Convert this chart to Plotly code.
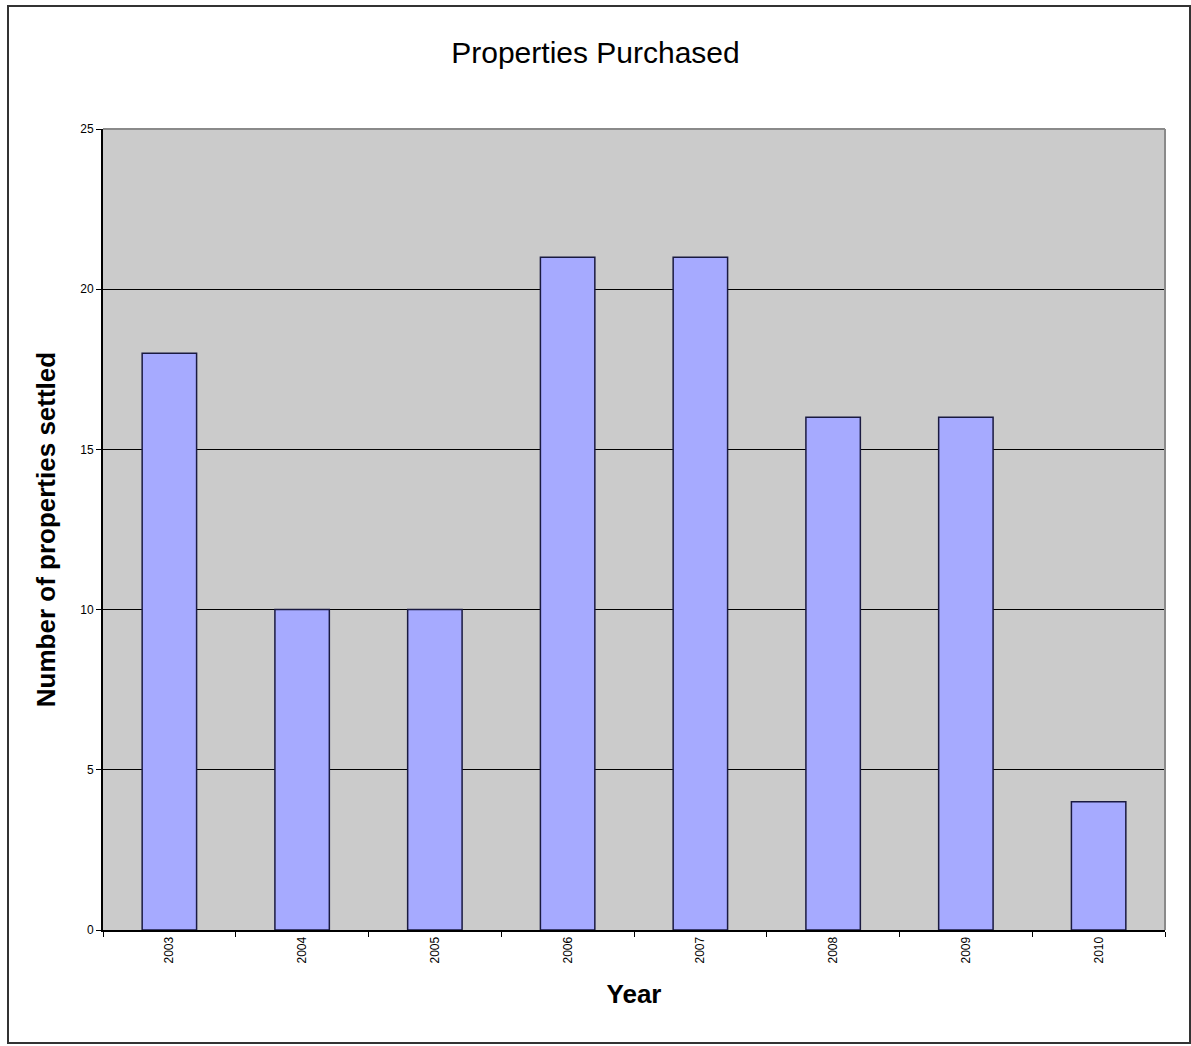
import plotly.graph_objects as go

years = ["2003", "2004", "2005", "2006", "2007", "2008", "2009", "2010"]
settled = [18, 10, 10, 21, 21, 16, 16, 4]
y_ticks = [0, 5, 10, 15, 20, 25]

W, H = 1191, 1046
L, R, T, B = 103, 26, 129, 116
pw = W - L - R
ph = H - T - B

def px_x(p):
    return (p - L) / pw

def px_y(p):
    return (H - B - p) / ph

fig = go.Figure(
    go.Bar(
        x=years,
        y=settled,
        width=0.41,
        marker=dict(color="#A6AAFF", line=dict(color="#1a1a40", width=1.5)),
    )
)

fig.update_layout(
    width=W,
    height=H,
    margin=dict(l=L, r=R, t=T, b=B),
    paper_bgcolor="white",
    plot_bgcolor="#CBCBCB",
    showlegend=False,
    font=dict(family="Liberation Sans, Arial, sans-serif", color="black"),
    title=dict(
        text="Properties Purchased",
        x=0.5,
        xanchor="center",
        y=1 - 52 / H,
        yanchor="middle",
        font=dict(size=30, color="black"),
    ),
    xaxis=dict(
        type="category",
        tickangle=-90,
        tickfont=dict(size=12),
        ticks="outside",
        tickson="boundaries",
        ticklen=5,
        tickcolor="black",
        showline=True,
        linecolor="black",
        linewidth=2,
        showgrid=False,
        title=dict(text="<b>Year</b>", font=dict(size=26), standoff=22),
    ),
    yaxis=dict(
        range=[0, 25],
        tickvals=y_ticks,
        tickfont=dict(size=12),
        ticks="outside",
        ticklen=5,
        tickcolor="black",
        showline=True,
        linecolor="black",
        linewidth=2,
        showgrid=True,
        gridcolor="black",
        gridwidth=1,
        zeroline=False,
        title=dict(text="<b>Number of properties settled</b>", font=dict(size=26), standoff=17),
    ),
    shapes=[
        dict(type="line", xref="paper", yref="paper", x0=0, x1=1, y0=1, y1=1,
             line=dict(color="#8a8a8a", width=2), layer="above"),
        dict(type="line", xref="paper", yref="paper", x0=1, x1=1, y0=0, y1=1,
             line=dict(color="#8a8a8a", width=2), layer="above"),
        dict(type="rect", xref="paper", yref="paper",
             x0=px_x(8), x1=px_x(1190), y0=px_y(1043), y1=px_y(6),
             line=dict(color="#333333", width=2), fillcolor="rgba(0,0,0,0)", layer="above"),
    ],
)

fig.write_html("out.html")
